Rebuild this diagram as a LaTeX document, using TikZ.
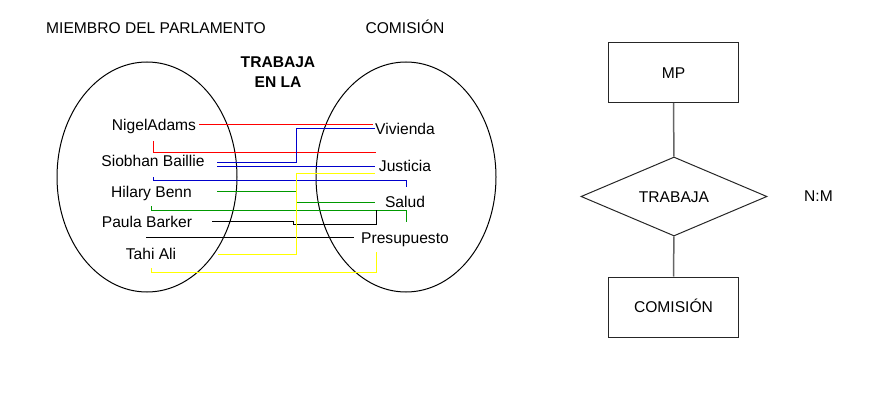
\documentclass[tikz,border=0pt]{standalone}
\usepackage{fontspec}
\setmainfont{Liberation Sans}
\usetikzlibrary{shapes.geometric}
\definecolor{rojo}{RGB}{255,0,0}
\definecolor{azul}{RGB}{0,0,204}
\definecolor{verde}{RGB}{0,153,0}
\definecolor{amarillo}{RGB}{255,255,0}
\begin{document}
\begin{tikzpicture}[x=1pt,y=-1pt,line width=1pt,
    txt/.style={inner sep=0pt,text height=11.2pt,text depth=0pt,font=\fontsize{15.6}{20}\selectfont},
    ent/.style={txt,draw=black!85,minimum width=130pt,minimum height=60pt},
    rel/.style={txt,draw=black!85,diamond,aspect=2.35,minimum width=186pt,minimum height=79pt},
    con/.style={draw=black!60,line width=1.5pt}]
  \useasboundingbox (0,0) rectangle (878,401);
    \draw (147,177) ellipse (90 and 115);
    \draw (406,177) ellipse (90 and 115);
    \node[txt] (T1) at (156,27.5) {MIEMBRO DEL PARLAMENTO};
    \node[txt] (T2) at (405,27.5) {COMISIÓN};
    \node[inner sep=0pt,anchor=north,align=center,font=\fontsize{15.6}{20}\selectfont\bfseries] (T3) at (278,56) {TRABAJA\\EN LA};
    \node[txt] (M1) at (154,124.5) {NigelAdams};
    \node[txt] (M2) at (153,161) {Siobhan Baillie};
    \node[txt] (M3) at (151.5,191.5) {Hilary Benn};
    \node[txt] (M4) at (147,221.5) {Paula Barker};
    \node[txt] (M5) at (151,254) {Tahi Ali};
    \node[txt] (C1) at (405,129) {Vivienda};
    \node[txt] (C2) at (405,166) {Justicia};
    \node[txt] (C3) at (405,202) {Salud};
    \node[txt] (C4) at (405,237.5) {Presupuesto};
    \coordinate (s1) at (199,125);
    \coordinate (s2) at (153,141);
    \coordinate (s3) at (217,162);
    \coordinate (s4) at (217,166);
    \coordinate (s5) at (153,177);
    \coordinate (s6) at (217,191);
    \coordinate (s7) at (151,206);
    \coordinate (s8) at (212,221);
    \coordinate (s9) at (146,237);
    \coordinate (s10) at (218,254);
    \coordinate (s11) at (151,268);
    \coordinate (e1) at (373,125);
    \coordinate (e2) at (376,153);
    \coordinate (e3) at (375,129);
    \coordinate (e4) at (375,166);
    \coordinate (e5) at (406,187);
    \coordinate (e6) at (375,202);
    \coordinate (e7) at (406,222);
    \coordinate (e8) at (376,210);
    \coordinate (e9) at (354,237);
    \coordinate (e10) at (375,173);
    \coordinate (e11) at (376,252);
    \draw[rojo] (s1) -- (e1);
    \draw[rojo] (s2) |- (e2);
    \draw[azul] (s3) -- ++(79,0) |- (e3);
    \draw[azul] (s4) -- (e4);
    \draw[azul] (s5) -- ++(0,3) -| (e5);
    \draw[verde] (s6) -- ++(79,0) |- (e6);
    \draw[verde] (s7) -- ++(0,4) -| (e7);
    \draw (s8) -- ++(81,0) -- ++(0,3) -| (e8);
    \draw (s9) -- (e9);
    \draw[amarillo] (s10) -- ++(78,0) |- (e10);
    \draw[amarillo] (s11) -- ++(0,4) -| (e11);
    \node[ent] (E1) at (673.5,72.5) {MP};
    \node[rel] (R1) at (674,196.5) {TRABAJA};
    \node[ent] (E2) at (673.5,307) {COMISIÓN};
    \node[txt] (NM) at (818.5,196) {N:M};
    \draw[con] (E1) -- (R1);
    \draw[con] (R1) -- (E2);
  \end{tikzpicture}
\end{document}
